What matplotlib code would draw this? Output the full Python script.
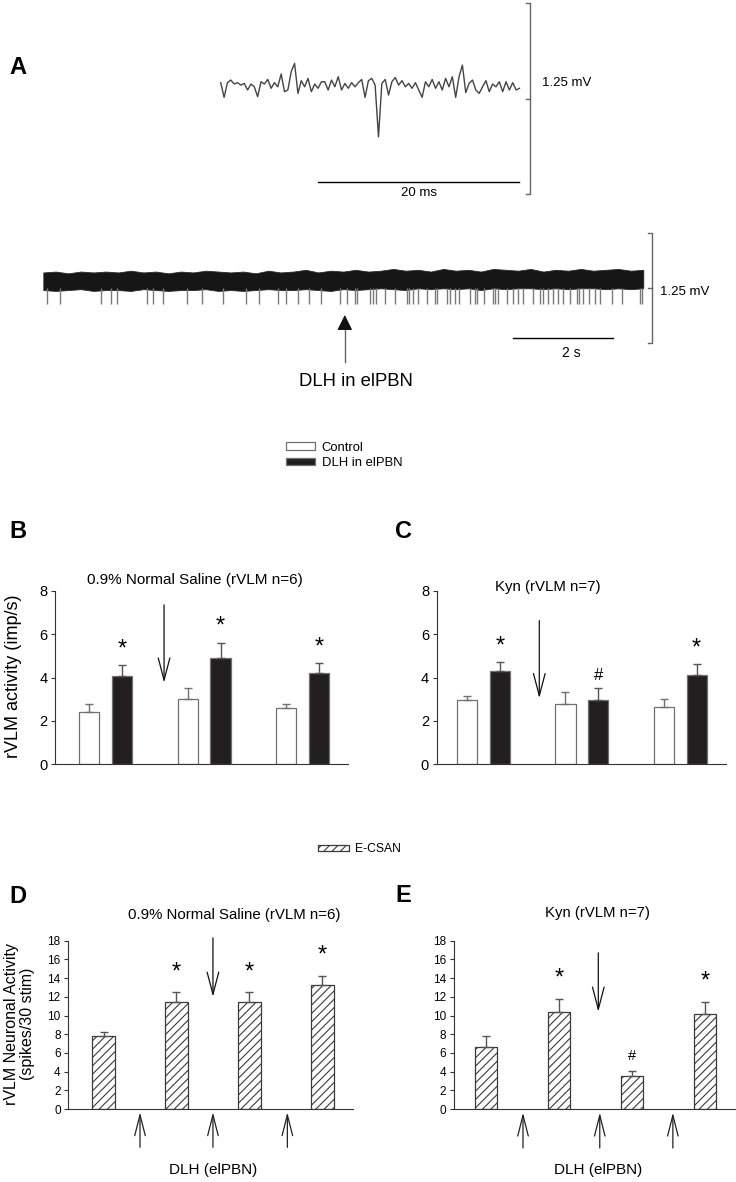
import numpy as np
import matplotlib
matplotlib.use("Agg")
import matplotlib.pyplot as plt
from matplotlib import font_manager

# ---- figure size (px at dpi 100) ----
W, H = 736, 1182

_names = {f.name for f in font_manager.fontManager.ttflist}
SANS = 'Liberation Sans' if 'Liberation Sans' in _names else 'DejaVu Sans'
plt.rcParams['font.family'] = [SANS, 'DejaVu Sans']
plt.rcParams['hatch.linewidth'] = 0.8

# ---- Panel A: single unit sweep (mV), one sample every 0.334 ms ----
unit_dt_ms = 0.334
unit_trace_mv = [
    0.106, 0.010, 0.106, 0.123, 0.097, 0.106, 0.090, 0.101, 0.058, 0.097,
    0.079, 0.014, 0.112, 0.097, 0.127, 0.069, 0.106, 0.079, 0.163, 0.047,
    0.058, 0.178, 0.232, 0.036, 0.119, 0.079, 0.134, 0.047, 0.097, 0.069,
    0.112, 0.112, 0.058, 0.123, 0.079, 0.145, 0.058, 0.101, 0.069, 0.106,
    0.079, 0.106, 0.127, 0.010, 0.119, 0.134, 0.090, -0.249, 0.101, 0.127,
    0.025, 0.112, 0.140, 0.090, 0.119, 0.079, 0.101, 0.069, 0.106, 0.058,
    0.010, 0.112, 0.079, 0.127, 0.069, 0.112, 0.058, 0.134, 0.079, 0.145,
    0.010, 0.145, 0.221, 0.041, 0.101, 0.123, 0.058, 0.036, 0.079, 0.119,
    0.047, 0.097, 0.079, 0.112, 0.047, 0.112, 0.058, 0.106, 0.058, 0.069,
]

# ---- Panel A: 12 s recording, spike times (s) and noise band envelope (mV) ----
spike_times_s = [
    0.08, 0.33, 1.15, 1.35, 1.48, 2.07, 2.20, 2.40, 2.87, 3.17, 3.60, 4.05,
    4.31, 4.70, 4.85, 5.10, 5.32, 5.55, 5.93, 6.08, 6.23, 6.28, 6.53, 6.59,
    6.65, 6.83, 7.03, 7.27, 7.32, 7.40, 7.50, 7.68, 7.83, 7.87, 8.07, 8.13,
    8.23, 8.32, 8.53, 8.63, 8.67, 8.82, 9.00, 9.03, 9.10, 9.27, 9.40, 9.50,
    9.60, 9.80, 9.93, 9.99, 10.10, 10.20, 10.30, 10.39, 10.53, 10.68, 10.72,
    10.80, 10.92, 11.03, 11.13, 11.37, 11.58, 11.93, 11.98,
]
spike_depth_mv = -0.18
band_dt_s = 0.25
band_top_mv = [
    0.18, 0.19, 0.17, 0.19, 0.18, 0.19, 0.18, 0.20, 0.18, 0.19,
    0.17, 0.19, 0.18, 0.20, 0.19, 0.18, 0.19, 0.17, 0.20, 0.18,
    0.19, 0.21, 0.18, 0.20, 0.19, 0.21, 0.19, 0.20, 0.22, 0.20,
    0.21, 0.19, 0.22, 0.20, 0.21, 0.19, 0.22, 0.21, 0.20, 0.22,
    0.19, 0.21, 0.20, 0.22, 0.20, 0.21, 0.22, 0.20, 0.21,
]
band_bot_mv = [
    -0.02, -0.03, -0.02, -0.01, -0.03, -0.02, -0.02, -0.03, -0.01, -0.02,
    -0.03, -0.02, -0.02, -0.01, -0.03, -0.02, -0.03, -0.02, -0.01, -0.02,
    -0.02, -0.01, -0.02, -0.03, -0.01, -0.02, -0.01, 0.00, -0.01, -0.02,
    0.00, -0.01, 0.00, -0.01, 0.00, -0.02, 0.00, -0.01, 0.00, 0.00,
    -0.01, 0.00, -0.01, 0.00, 0.00, -0.01, 0.00, -0.01, 0.00,
]

# ---- Panels B/C: rVLM activity (imp/s), mean and SEM ----
saline_ctrl = [2.40, 3.00, 2.60]
saline_ctrl_sem = [0.39, 0.52, 0.20]
saline_dlh = [4.08, 4.92, 4.23]
saline_dlh_sem = [0.49, 0.70, 0.43]
saline_marks = ['*', '*', '*']

kyn_ctrl = [2.96, 2.80, 2.63]
kyn_ctrl_sem = [0.18, 0.55, 0.37]
kyn_dlh = [4.32, 2.96, 4.12]
kyn_dlh_sem = [0.39, 0.55, 0.50]
kyn_marks = ['*', '#', '*']

# ---- Panels D/E: E-CSAN evoked rVLM activity (spikes/30 stim) ----
ecsan_saline = [7.80, 11.44, 11.44, 13.23]
ecsan_saline_sem = [0.40, 1.04, 1.04, 1.03]
ecsan_saline_marks = ['', '*', '*', '*']

ecsan_kyn = [6.67, 10.37, 3.49, 10.20]
ecsan_kyn_sem = [1.11, 1.43, 0.57, 1.28]
ecsan_kyn_marks = ['', '*', '#', '*']

fig = plt.figure(figsize=(W / 100, H / 100), dpi=100)


def px_axes(x0, y0, x1, y1):
    return fig.add_axes([x0 / W, 1 - y1 / H, (x1 - x0) / W, (y1 - y0) / H])


def style_axis(ax, ylim, yticks, labelsize):
    ax.set_ylim(*ylim)
    ax.set_yticks(yticks)
    ax.set_xticks([])
    for s in ('top', 'right'):
        ax.spines[s].set_visible(False)
    for s in ('left', 'bottom'):
        ax.spines[s].set_color('#333333')
        ax.spines[s].set_linewidth(0.8)
    ax.tick_params(axis='y', direction='out', length=3, width=0.8,
                   color='#333333', labelsize=labelsize, pad=2.5)
    ax.patch.set_alpha(0)


def down_arrow(ax, x, y0, y1, hl=1.6, hw=0.42):
    ax.annotate('', xy=(x, y1), xytext=(x, y0), annotation_clip=False,
                arrowprops=dict(arrowstyle=f'->,head_length={hl},head_width={hw}',
                                color='#111111', lw=0.9, shrinkA=0, shrinkB=0))


# ================= Panel A =================
ax_a1 = px_axes(215, 0, 600, 200)
ax_a1.set_xlim(-0.57, 37.74)
ax_a1.set_ylim(-0.662, 0.647)
ax_a1.axis('off')
t_ms = np.arange(len(unit_trace_mv)) * unit_dt_ms
ax_a1.plot(t_ms, unit_trace_mv, color='#444444', lw=1.0)
sx = 30.78
ax_a1.plot([sx - 0.4, sx, sx, sx - 0.4], [0.625, 0.625, -0.625, -0.625], color='#666666', lw=1)
ax_a1.plot([sx - 0.4, sx], [0, 0], color='#666666', lw=1)
ax_a1.plot([9.71, 29.71], [-0.543, -0.543], color='black', lw=1)
ax_a1.text(19.7, -0.615, '20 ms', ha='center', va='center', fontsize=9.5)
ax_a1.text(31.94, 0.101, '1.25 mV', ha='left', va='center', fontsize=9.5)

ax_a2 = px_axes(30, 225, 720, 400)
ax_a2.set_xlim(-0.266, 13.534)
ax_a2.set_ylim(-1.269, 0.719)
ax_a2.axis('off')
band_t = np.arange(len(band_top_mv)) * band_dt_s
ax_a2.vlines(spike_times_s, spike_depth_mv, 0.0, color='#7a7a7a', lw=1)
ax_a2.fill_between(band_t, band_bot_mv, band_top_mv, color='#161616', lw=0.6, edgecolor='#2a2a2a')
vx = 12.17
ax_a2.plot([vx - 0.08, vx, vx, vx - 0.08], [0.625, 0.625, -0.625, -0.625], color='#666666', lw=1)
ax_a2.plot([vx - 0.08, vx], [0, 0], color='#666666', lw=1)
ax_a2.plot([9.39, 11.39], [-0.568, -0.568], color='black', lw=1)
ax_a2.text(10.57, -0.739, '2 s', ha='center', va='center', fontsize=10)
ax_a2.text(12.33, -0.04, '1.25 mV', ha='left', va='center', fontsize=9.5)
ax_a2.plot([6.03, 6.03], [-0.834, -0.44], color='#666666', lw=1)
ax_a2.annotate('', xy=(6.03, -0.303), xytext=(6.03, -0.46),
               arrowprops=dict(arrowstyle='-|>,head_length=0.95,head_width=0.47',
                               color='#111111', lw=0.8, shrinkA=0, shrinkB=0))
ax_a2.text(6.25, -1.06, 'DLH in elPBN', ha='center', va='center', fontsize=13.3)

# ================= Panels B and C =================
def pair_panel(ax, ctrl, ctrl_sem, dlh, dlh_sem, marks, xlim, arrow):
    x = np.arange(len(ctrl))
    off, w = 0.1665, 0.206
    bc = ax.bar(x - off, ctrl, w, color='white', edgecolor='#707070', lw=0.9,
                label='Control', zorder=2)
    bd = ax.bar(x + off, dlh, w, color='#231f20', edgecolor='#707070', lw=0.9,
                label='DLH in elPBN', zorder=2)
    ax.errorbar(x - off, ctrl, yerr=[np.zeros(len(ctrl)), ctrl_sem], fmt='none',
                ecolor='#707070', elinewidth=1, capsize=3, capthick=1, zorder=3)
    ax.errorbar(x + off, dlh, yerr=[np.zeros(len(dlh)), dlh_sem], fmt='none',
                ecolor='#555555', elinewidth=1, capsize=3, capthick=1, zorder=3)
    for xi, yi, ei, m in zip(x + off, dlh, dlh_sem, marks):
        if m == '*':
            ax.annotate(m, (xi, yi + ei), xytext=(0, 11.5), textcoords='offset points',
                        ha='center', va='center', fontsize=17)
        elif m == '#':
            ax.annotate(m, (xi, yi + ei), xytext=(0, 9.5), textcoords='offset points',
                        ha='center', va='center', fontsize=12)
    ax.set_xlim(*xlim)
    style_axis(ax, (0, 8), [0, 2, 4, 6, 8], 10.5)
    down_arrow(ax, *arrow)
    return bc, bd


ax_b = px_axes(55, 591, 348, 764.3)
bc, bd = pair_panel(ax_b, saline_ctrl, saline_ctrl_sem, saline_dlh, saline_dlh_sem,
                    saline_marks, (-0.514, 2.46), (0.593, 7.36, 3.77))
ax_c = px_axes(436.7, 591, 725.7, 764.3)
pair_panel(ax_c, kyn_ctrl, kyn_ctrl_sem, kyn_dlh, kyn_dlh_sem,
           kyn_marks, (-0.474, 2.461), (0.568, 6.63, 3.05))

fig.text(194.5 / W, 1 - 580 / H, '0.9% Normal Saline (rVLM n=6)', ha='center', va='center', fontsize=11)
fig.text(548 / W, 1 - 586.7 / H, 'Kyn (rVLM n=7)', ha='center', va='center', fontsize=10.8)
fig.text(14 / W, 1 - 676 / H, 'rVLM activity (imp/s)', rotation=90, ha='center', va='center', fontsize=13)

fig.legend([bc, bd], ['Control', 'DLH in elPBN'], loc='center left',
           bbox_to_anchor=(286 / W, 1 - 455.3 / H), frameon=False, fontsize=9.4,
           handlelength=2.22, handleheight=0.49, handletextpad=0.5,
           labelspacing=0.25, borderpad=0, borderaxespad=0)

# ================= Panels D and E =================
def ecsan_panel(ax, vals, sem, marks, xlim, up_x, up_y, arrow):
    x = np.arange(len(vals))
    bars = ax.bar(x, vals, 0.306, color='white', edgecolor='#3a3a3a', hatch='////',
                  lw=0.9, label='E-CSAN', zorder=2)
    ax.errorbar(x, vals, yerr=[np.zeros(len(vals)), sem], fmt='none',
                ecolor='#555555', elinewidth=1, capsize=3, capthick=1, zorder=3)
    for xi, yi, ei, m in zip(x, vals, sem, marks):
        if m == '*':
            ax.annotate(m, (xi, yi + ei), xytext=(0, 14.5), textcoords='offset points',
                        ha='center', va='center', fontsize=17)
        elif m == '#':
            ax.annotate(m, (xi, yi + ei), xytext=(0, 10.5), textcoords='offset points',
                        ha='center', va='center', fontsize=10.5)
    ax.set_xlim(*xlim)
    style_axis(ax, (0, 18), list(range(0, 19, 2)), 8.5)
    for ux in up_x:
        ax.annotate('', xy=(ux, up_y[1]), xytext=(ux, up_y[0]), annotation_clip=False,
                    arrowprops=dict(arrowstyle='->,head_length=1.5,head_width=0.38',
                                    color='#222222', lw=0.9, shrinkA=0, shrinkB=0))
    down_arrow(ax, *arrow)
    ax.text(np.mean(up_x), -6.5, 'DLH (elPBN)', ha='center', va='center', fontsize=11)
    return bars


ax_d = px_axes(68.3, 940.7, 353, 1109)
hb = ecsan_panel(ax_d, ecsan_saline, ecsan_saline_sem, ecsan_saline_marks,
                 (-0.483, 3.42), [0.5, 1.5, 2.52], (-4.10, -0.35), (1.5, 18.3, 12.0))
ax_e = px_axes(454, 940.7, 735, 1109)
ecsan_panel(ax_e, ecsan_kyn, ecsan_kyn_sem, ecsan_kyn_marks,
            (-0.434, 3.41), [0.51, 1.56, 2.56], (-4.17, -0.39), (1.54, 16.7, 10.4))

fig.text(234 / W, 1 - 915 / H, '0.9% Normal Saline (rVLM n=6)', ha='center', va='center', fontsize=10.8)
fig.text(597.5 / W, 1 - 913 / H, 'Kyn (rVLM n=7)', ha='center', va='center', fontsize=10.7)
fig.text(19.5 / W, 1 - 1024 / H, 'rVLM Neuronal Activity\n(spikes/30 stim)', rotation=90,
         ha='center', va='center', fontsize=11.5, linespacing=1.1)

fig.legend([hb], ['E-CSAN'], loc='center left', bbox_to_anchor=(318 / W, 1 - 849.3 / H),
           frameon=False, fontsize=8.7, handlelength=2.6, handleheight=0.5,
           handletextpad=0.45, borderpad=0, borderaxespad=0)

# ---- panel letters ----
for letter, x, y in [('A', 18, 68), ('B', 18, 531.7), ('C', 403, 531.7),
                     ('D', 18, 896.7), ('E', 403, 895)]:
    fig.text(x / W, 1 - y / H, letter, ha='center', va='center', fontsize=17, fontweight='bold')

fig.savefig('out.png', dpi=100)
